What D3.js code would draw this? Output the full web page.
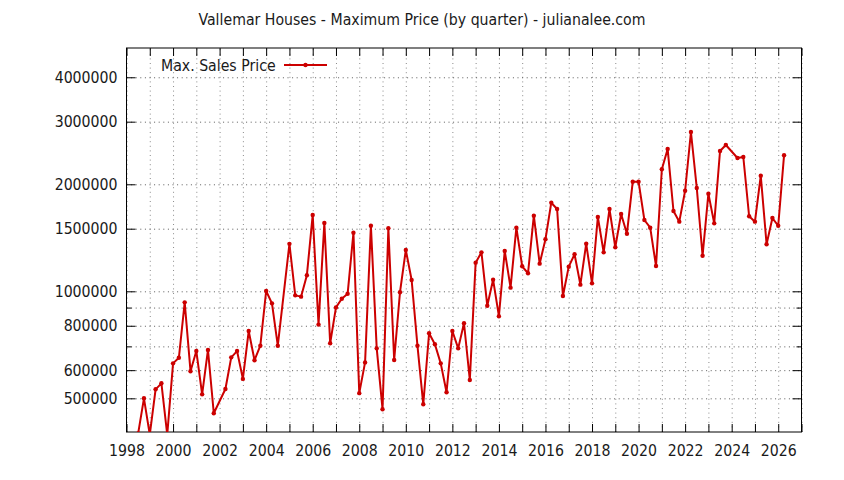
<!DOCTYPE html>
<html>
<head>
<meta charset="utf-8">
<script src="https://cdn.jsdelivr.net/npm/d3@7/dist/d3.min.js"></script>
<style>
  body { margin: 0; background: #fff; }
  svg { display: block; }
  text { font-family: "DejaVu Sans Condensed", "DejaVu Sans", sans-serif; fill: #1a1a1a; }
</style>
</head>
<body>
<svg id="chart" width="844" height="480"></svg>
<script>
// ---- data ----
const title = "Vallemar Houses - Maximum Price (by quarter) - julianalee.com";
const seriesName = "Max. Sales Price";
const quarters = [
  1998.5, 1998.75, 1999.0, 1999.25, 1999.5, 1999.75,
  2000.0, 2000.25, 2000.5, 2000.75, 2001.0, 2001.25, 2001.5, 2001.75,
  2002.25, 2002.5, 2002.75, 2003.0, 2003.25, 2003.5, 2003.75,
  2004.0, 2004.25, 2004.5, 2005.0, 2005.25, 2005.5, 2005.75,
  2006.0, 2006.25, 2006.5, 2006.75, 2007.0, 2007.25, 2007.5, 2007.75,
  2008.0, 2008.25, 2008.5, 2008.75, 2009.0, 2009.25, 2009.5, 2009.75,
  2010.0, 2010.25, 2010.5, 2010.75, 2011.0, 2011.25, 2011.5, 2011.75,
  2012.0, 2012.25, 2012.5, 2012.75, 2013.0, 2013.25, 2013.5, 2013.75,
  2014.0, 2014.25, 2014.5, 2014.75, 2015.0, 2015.25, 2015.5, 2015.75,
  2016.0, 2016.25, 2016.5, 2016.75, 2017.0, 2017.25, 2017.5, 2017.75,
  2018.0, 2018.25, 2018.5, 2018.75, 2019.0, 2019.25, 2019.5, 2019.75,
  2020.0, 2020.25, 2020.5, 2020.75, 2021.0, 2021.25, 2021.5, 2021.75,
  2022.0, 2022.25, 2022.5, 2022.75, 2023.0, 2023.25, 2023.5, 2023.75,
  2024.25, 2024.5, 2024.75, 2025.0, 2025.25, 2025.5, 2025.75,
  2026.0, 2026.25
];
const prices = [
  398000, 500000, 395000, 530000, 551000, 395000,
  627000, 650000, 931000, 596000, 679000, 513000, 684000, 454000,
  531000, 652000, 679000, 567000, 773000, 640000, 703000,
  1002000, 925000, 703000, 1360000, 974000, 966000, 1110000,
  1640000, 806000, 1556000, 714000, 901000, 953000, 984000, 1461000,
  517000, 631000, 1529000, 691000, 466000, 1504000, 641000, 994000,
  1307000, 1076000, 703000, 481000, 762000, 710000, 627000, 520000,
  773000, 691000, 813000, 563000, 1204000, 1287000, 911000, 1078000,
  851000, 1299000, 1024000, 1510000, 1176000, 1124000, 1632000, 1196000,
  1401000, 1775000, 1704000, 970000, 1173000, 1271000, 1044000, 1361000,
  1053000, 1618000, 1287000, 1704000, 1330000, 1650000, 1452000, 2034000,
  2034000, 1587000, 1510000, 1178000, 2204000, 2513000, 1682000, 1570000,
  1918000, 2806000, 1953000, 1259000, 1882000, 1553000, 2481000, 2579000,
  2371000, 2387000, 1626000, 1570000, 2114000, 1356000, 1607000,
  1529000, 2413000
];
const xTickYears = d3.range(1998, 2028);          // tick every year
const xLabelYears = d3.range(1998, 2028, 2);      // labels every 2 years
const yMajorTicks = [500000, 600000, 800000, 1000000, 1500000, 2000000, 3000000, 4000000];
const yMinorTicks = [700000, 900000];
const xDomain = [1998, 2027];
const yDomain = [402000, 4835000];

// ---- layout ----
const L = 126.5, R = 801.5, T = 48, B = 432;
const W = R - L, H = B - T;
const red = "#cc0000";
const FS = 15.7;

const svg = d3.select("#chart");
const x = d3.scaleLinear().domain(xDomain).range([L, R]);
const y = d3.scaleLog().domain(yDomain).range([B, T]);

const data = quarters.map((q, i) => ({ q, v: prices[i] }));

// grid
const gridX = svg.append("g").attr("transform", `translate(0,${B})`)
  .call(d3.axisBottom(x).tickValues(xTickYears).tickSize(-H).tickFormat(""));
const gridY = svg.append("g").attr("transform", `translate(${L},0)`)
  .call(d3.axisLeft(y).tickValues(yMajorTicks.concat(yMinorTicks)).tickSize(-W).tickFormat(""));
[gridX, gridY].forEach(g => {
  g.select(".domain").remove();
  g.selectAll("line").attr("stroke", "#8a8a8a").attr("stroke-width", 1).attr("stroke-dasharray", "1,3.6");
});
gridY.selectAll("line").attr("stroke", "#5a5a5a");

// axes (ticks inward, mirrored)
const fmt = d => xLabelYears.includes(d) ? String(d) : "";
const axB = svg.append("g").attr("transform", `translate(0,${B})`)
  .call(d3.axisBottom(x).tickValues(xTickYears).tickSize(-8).tickPadding(13).tickFormat(fmt));
const axT = svg.append("g").attr("transform", `translate(0,${T})`)
  .call(d3.axisTop(x).tickValues(xTickYears).tickSize(-8).tickFormat(""));
const axL = svg.append("g").attr("transform", `translate(${L},0)`)
  .call(d3.axisLeft(y).tickValues(yMajorTicks).tickSize(-9).tickPadding(9).tickFormat(d3.format("d")));
const axLm = svg.append("g").attr("transform", `translate(${L},0)`)
  .call(d3.axisLeft(y).tickValues(yMinorTicks).tickSize(-5).tickFormat(""));
const axR = svg.append("g").attr("transform", `translate(${R},0)`)
  .call(d3.axisRight(y).tickValues(yMajorTicks).tickSize(-9).tickFormat(""));
const axRm = svg.append("g").attr("transform", `translate(${R},0)`)
  .call(d3.axisRight(y).tickValues(yMinorTicks).tickSize(-5).tickFormat(""));
[axB, axT, axL, axLm, axR, axRm].forEach(g => {
  g.select(".domain").remove();
  g.selectAll("line").attr("stroke", "#000").attr("stroke-width", 1);
  g.selectAll("text").attr("font-size", FS).attr("fill", "#1a1a1a")
    .attr("font-family", '"DejaVu Sans Condensed", "DejaVu Sans", sans-serif');
});

// border
svg.append("rect").attr("x", L).attr("y", T).attr("width", W).attr("height", H)
  .attr("fill", "none").attr("stroke", "#000").attr("stroke-width", 1);

// clip
svg.append("clipPath").attr("id", "plotclip")
  .append("rect").attr("x", L).attr("y", T).attr("width", W).attr("height", H);

const plot = svg.append("g").attr("clip-path", "url(#plotclip)");
const line = d3.line().x(d => x(d.q)).y(d => y(d.v));
plot.append("path").datum(data).attr("d", line)
  .attr("fill", "none").attr("stroke", red).attr("stroke-width", 2).attr("stroke-linejoin", "round");
plot.selectAll("circle").data(data).join("circle")
  .attr("cx", d => x(d.q)).attr("cy", d => y(d.v)).attr("r", 2.2).attr("fill", red);

// title
svg.append("text").attr("x", 422).attr("y", 25).attr("text-anchor", "middle")
  .attr("font-size", FS).text(title);

// legend
const key = svg.append("g");
key.append("text").attr("x", 161).attr("y", 70.5).attr("font-size", FS).text(seriesName);
key.append("line").attr("x1", 284).attr("x2", 327).attr("y1", 65).attr("y2", 65)
  .attr("stroke", red).attr("stroke-width", 2);
key.append("circle").attr("cx", 305.5).attr("cy", 65).attr("r", 2.2).attr("fill", red);
</script>
</body>
</html>
